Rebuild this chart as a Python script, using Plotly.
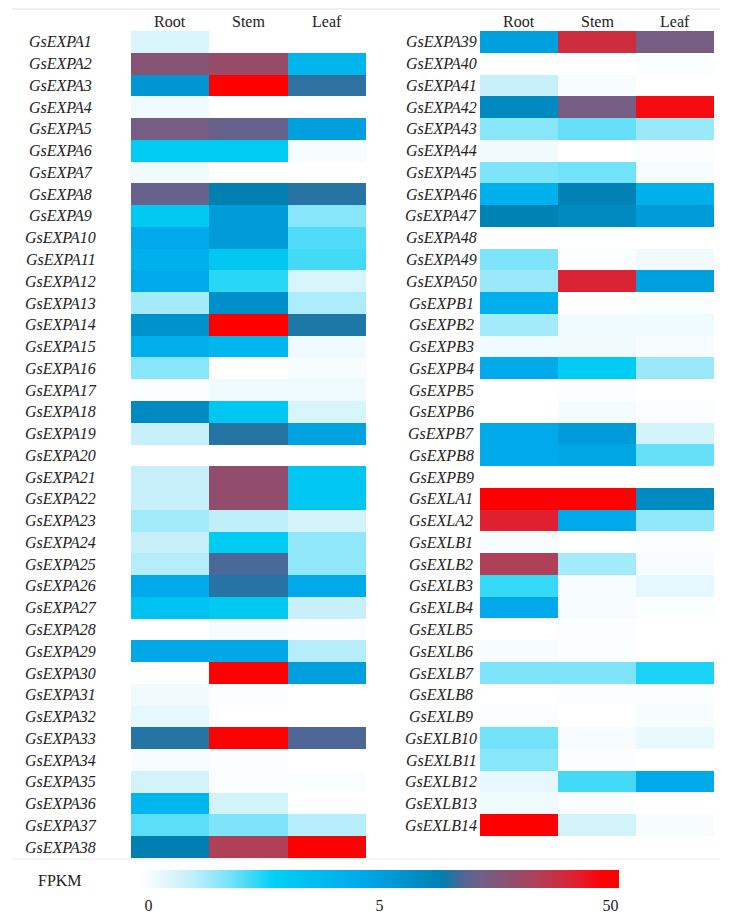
import plotly.graph_objects as go

tissues = ["Root", "Stem", "Leaf"]

genes_left = ["GsEXPA%d" % i for i in range(1, 39)]
genes_right = (["GsEXPA%d" % i for i in range(39, 51)]
               + ["GsEXPB%d" % i for i in range(1, 10)]
               + ["GsEXLA1", "GsEXLA2"]
               + ["GsEXLB%d" % i for i in range(1, 15)])

# FPKM values (Root, Stem, Leaf), values > 50 saturate red
left_root = [0.7, 28.4, 8.6, 0.3, 24.8, 3.0, 0.25, 23.0, 3.1, 4.6, 4.3, 4.6, 1.4, 10.4, 4.4, 1.7, 0.1, 13.1, 1.0, 0.0,
             1.0, 1.0, 1.4, 1.0, 1.2, 4.6, 3.4, 0.0, 4.7, 0.0, 0.25, 0.5, 18.5, 0.15, 0.8, 4.0, 2.1, 16.7]
left_stem = [0.0, 31.1, 62.0, 0.0, 23.0, 3.0, 0.0, 16.7, 6.8, 6.8, 3.2, 2.5, 11.3, 58.0, 4.0, 0.0, 0.3, 3.2, 18.5, 0.0,
             30.2, 30.2, 1.1, 3.0, 20.3, 18.5, 3.1, 0.15, 4.7, 66.0, 0.1, 0.0, 57.0, 0.1, 0.1, 0.8, 1.8, 34.7]
left_leaf = [0.0, 4.0, 19.0, 0.0, 5.0, 0.15, 0.0, 18.5, 1.7, 2.2, 2.3, 0.7, 1.3, 18.1, 0.3, 0.15, 0.3, 0.7, 4.9, 0.0,
             3.2, 3.2, 0.8, 1.6, 1.6, 4.6, 1.0, 0.1, 1.2, 5.0, 0.0, 0.0, 20.8, 0.0, 0.1, 0.0, 1.2, 55.0]

right_root = [5.0, 0.0, 1.0, 13.1, 1.7, 0.25, 1.8, 4.3, 15.8, 0.0, 1.8, 1.5,
              4.3, 1.4, 0.3, 4.6, 0.0, 0.0, 4.6, 4.6, 0.0,
              60.0, 41.9,
              0.15, 34.7, 2.4, 4.6, 0.0, 0.15, 1.8, 0.0, 0.1, 1.9, 1.7, 0.45, 0.3, 64.0]
right_stem = [39.2, 0.0, 0.15, 24.8, 2.0, 0.0, 1.9, 15.8, 13.1, 0.0, 0.1, 41.0,
              0.0, 0.3, 0.25, 3.0, 0.1, 0.2, 6.8, 4.8, 0.0,
              61.0, 4.6,
              0.0, 1.4, 0.15, 0.15, 0.1, 0.1, 1.8, 0.1, 0.0, 0.15, 0.1, 2.3, 0.1, 0.8]
right_leaf = [24.8, 0.1, 0.0, 45.5, 1.5, 0.1, 0.15, 4.3, 6.8, 0.0, 0.25, 5.0,
              0.1, 0.3, 0.15, 1.5, 0.0, 0.1, 0.8, 2.0, 0.0,
              13.1, 1.6,
              0.1, 0.15, 0.5, 0.1, 0.0, 0.0, 2.6, 0.1, 0.15, 0.4, 0.0, 4.6, 0.0, 0.15]

colorbar_ticks = [0, 5, 50]


def to_pos(v):
    v = min(v, 50.0)
    if v <= 5:
        return v / 10.0
    return 0.5 + 0.5 * (v - 5.0) / 45.0


def matrix(*cols):
    return [[to_pos(c[i]) for c in cols] for i in range(len(cols[0]))]


colorscale = [
    [0.0, "#ffffff"], [0.1, "#c8f0fa"], [0.17, "#88e6fa"], [0.22, "#50dcf8"],
    [0.28, "#00d0f4"], [0.35, "#00c0f0"], [0.46, "#00aaea"], [0.55, "#0094d0"],
    [0.63, "#0080b0"], [0.67, "#4a6898"], [0.71, "#706088"], [0.77, "#8c5070"],
    [0.83, "#b04058"], [0.91, "#e02030"], [0.97, "#ff0000"], [1.0, "#ff0000"],
]

# page body has an 8px margin: the figure is placed at (8, 8)
OFF = 8
W, H = 732 - OFF, 916 - OFF


def px(X):
    return (X - OFF) / W


def py(Y):
    return 1 - (Y - OFF) / H


# tick labels sit slightly inside the ends of the gradient bar
tick_inset = 0.018
tick_pos = [min(max(to_pos(v), tick_inset), 1 - tick_inset) for v in colorbar_ticks]

fig = go.Figure()
fig.add_trace(go.Heatmap(
    z=matrix(left_root, left_stem, left_leaf), x=[0, 1, 2], y=list(range(len(genes_left))),
    colorscale=colorscale, zmin=0, zmax=1, xaxis="x", yaxis="y", hoverinfo="skip",
    colorbar=dict(orientation="h", thickness=18, thicknessmode="pixels", len=479, lenmode="pixels",
                  x=px(379.5), xanchor="center", y=py(870), yanchor="top", yref="paper",
                  tickvals=tick_pos, ticktext=[str(v) for v in colorbar_ticks],
                  ticks="outside", ticklen=4, tickcolor="rgba(0,0,0,0)", outlinewidth=0,
                  tickfont=dict(family="Liberation Serif", size=16, color="#222"), xpad=0, ypad=0),
))
fig.add_trace(go.Heatmap(
    z=matrix(right_root, right_stem, right_leaf), x=[0, 1, 2], y=list(range(len(genes_right))),
    colorscale=colorscale, zmin=0, zmax=1, xaxis="x2", yaxis="y2", showscale=False, hoverinfo="skip",
))

axis_common = dict(showgrid=False, zeroline=False, showticklabels=False, ticks="", showline=False)
fig.update_layout(
    width=W, height=H, margin=dict(l=0, r=0, t=0, b=0),
    paper_bgcolor="white", plot_bgcolor="white",
    xaxis=dict(domain=[px(131), px(366)], range=[-0.5, 2.5], anchor="y", **axis_common),
    xaxis2=dict(domain=[px(480), px(714)], range=[-0.5, 2.5], anchor="y2", **axis_common),
    yaxis=dict(domain=[py(858), py(31)], range=[37.5, -0.5], anchor="x", **axis_common),
    yaxis2=dict(domain=[py(858), py(31)], range=[37.5, -0.5], anchor="x2", **axis_common),
)

font_hdr = dict(family="Liberation Serif", size=16, color="#222")
font_lab = dict(family="Liberation Serif", size=16, color="#222")
ann = []
for xr in ["x", "x2"]:
    for i, t in enumerate(tissues):
        ann.append(dict(x=i, xref=xr, y=py(21), yref="paper", text=t, showarrow=False,
                        font=font_hdr, xanchor="center", yanchor="middle"))
for i, g in enumerate(genes_left):
    ann.append(dict(x=px(61), xref="paper", y=i, yref="y", text="<i>%s</i>" % g, showarrow=False,
                    font=font_lab, xanchor="center", yanchor="middle"))
for i, g in enumerate(genes_right):
    ann.append(dict(x=px(441), xref="paper", y=i, yref="y2", text="<i>%s</i>" % g, showarrow=False,
                    font=font_lab, xanchor="center", yanchor="middle"))
ann.append(dict(x=px(60), xref="paper", y=py(880), yref="paper", text="FPKM", showarrow=False,
                font=dict(family="Liberation Serif", size=16, color="#222"), xanchor="center", yanchor="middle"))
fig.update_layout(annotations=ann)

fig.update_layout(shapes=[
    dict(type="line", xref="paper", yref="paper", x0=px(12), x1=px(720), y0=py(9), y1=py(9),
         line=dict(color="#e2e2e2", width=1)),
    dict(type="line", xref="paper", yref="paper", x0=px(12), x1=px(720), y0=py(859), y1=py(859),
         line=dict(color="#ececec", width=1)),
])

fig.write_html("out.html")
